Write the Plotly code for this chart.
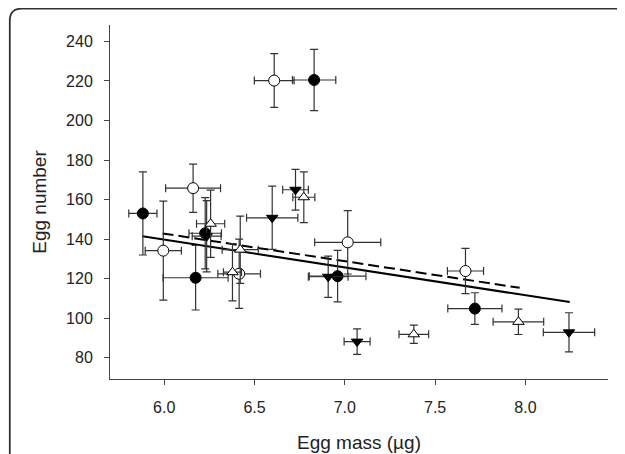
import plotly.graph_objects as go

# ---- data ----
fc_x = [5.882, 6.174, 6.227, 6.830, 6.960, 7.720]
fc_y = [153.0, 120.5, 143.0, 220.5, 121.3, 104.9]
fc_xe = [0.078, 0.180, 0.090, 0.120, 0.157, 0.150]
fc_ye = [21.0, 16.3, 18.0, 15.5, 13.0, 8.0]

oc_x = [5.995, 6.160, 6.415, 6.609, 7.016, 7.668]
oc_y = [134.2, 165.8, 122.5, 220.2, 138.4, 123.9]
oc_xe = [0.100, 0.152, 0.118, 0.110, 0.183, 0.100]
oc_ye = [25.0, 12.2, 17.5, 13.6, 16.0, 11.4]

ft_x = [6.235, 6.598, 6.727, 6.908, 7.068, 8.241]
ft_y = [141.5, 150.8, 165.0, 121.0, 88.2, 92.9]
ft_xe = [0.080, 0.142, 0.071, 0.110, 0.072, 0.142]
ft_ye = [18.0, 16.0, 10.3, 10.4, 6.4, 9.9]

ot_x = [6.257, 6.378, 6.421, 6.773, 7.382, 7.961]
ot_y = [147.8, 123.3, 134.7, 161.2, 91.9, 98.2]
ot_xe = [0.078, 0.050, 0.100, 0.061, 0.082, 0.140]
ot_ye = [17.0, 14.5, 17.0, 12.8, 4.6, 6.4]

fit_solid_x = [5.88, 8.245]
fit_solid_y = [141.5, 108.2]
fit_dash_x = [5.991, 7.968]
fit_dash_y = [142.9, 115.4]

x_ticks = [6.0, 6.5, 7.0, 7.5, 8.0]
x_ticklabels = ["6.0", "6.5", "7.0", "7.5", "8.0"]
y_ticks = [80, 100, 120, 140, 160, 180, 200, 220, 240]

# ---- styling ----
W, H = 625, 454
ML, MR, MT, MB = 102, 25, 17, 79
ERR = "#333333"
FONT = "Liberation Sans, Arial, sans-serif"

def eb(vals):
    return dict(type="data", array=vals, visible=True, color=ERR,
                thickness=1.2, width=4)

fig = go.Figure()

fig.add_trace(go.Scatter(x=fit_solid_x, y=fit_solid_y, mode="lines",
                         line=dict(color="black", width=2), showlegend=False,
                         hoverinfo="skip"))
fig.add_trace(go.Scatter(x=fit_dash_x, y=fit_dash_y, mode="lines",
                         line=dict(color="black", width=2, dash="11px,5px"),
                         showlegend=False, hoverinfo="skip"))

groups = [
    (fc_x, fc_y, fc_xe, fc_ye, "circle", "black", 11),
    (oc_x, oc_y, oc_xe, oc_ye, "circle", "white", 11),
    (ft_x, ft_y, ft_xe, ft_ye, "triangle-down", "black", 10),
    (ot_x, ot_y, ot_xe, ot_ye, "triangle-up", "white", 10),
]
for gx, gy, gxe, gye, sym, fill, sz in groups:
    fig.add_trace(go.Scatter(
        x=gx, y=gy, mode="markers",
        error_x=eb(gxe), error_y=eb(gye),
        marker=dict(symbol=sym, color=fill, size=sz,
                    line=dict(color="black", width=1)),
        showlegend=False))

# rounded frame (partially cropped) in pixel terms -> paper coords
def px(xp):
    return (xp - ML) / (W - ML - MR)

def py(yp):
    return (H - MB - yp) / (H - MT - MB)

r = 12
x0, y0 = 1.8, 0.4
path = (f"M {px(x0)},{py(470)} L {px(x0)},{py(y0 + r)} "
        f"Q {px(x0)},{py(y0)} {px(x0 + r)},{py(y0)} L {px(640)},{py(y0)}")
fig.add_shape(type="path", path=path, xref="paper", yref="paper",
              line=dict(color="#333333", width=1.8), layer="above")

axis_common = dict(showline=True, linecolor="#444444", linewidth=1,
                   ticks="outside", ticklen=5, tickcolor="#444444",
                   showgrid=False, zeroline=False,
                   tickfont=dict(family=FONT, size=16, color="#222222"))

fig.update_layout(
    width=W, height=H,
    margin=dict(l=ML, r=MR, t=MT, b=MB),
    plot_bgcolor="white", paper_bgcolor="white",
    font=dict(family=FONT, color="#222222"),
    xaxis=dict(range=[5.70, 8.457], tickvals=x_ticks, ticktext=x_ticklabels,
               ticklabelstandoff=9,
               title=dict(text="Egg mass (µg)", font=dict(size=19), standoff=20),
               **axis_common),
    yaxis=dict(range=[69.3, 248.3], tickvals=y_ticks,
               ticklabelstandoff=8,
               title=dict(text="Egg number", font=dict(size=19), standoff=14),
               **axis_common),
)

fig.write_html("out.html")
